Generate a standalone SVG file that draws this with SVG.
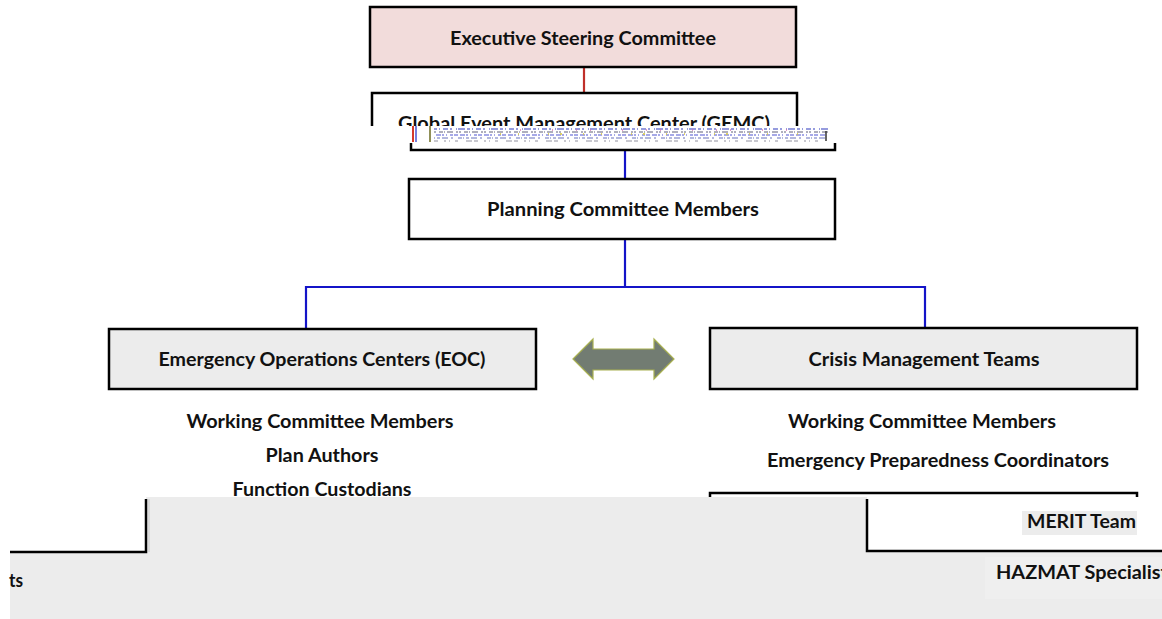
<svg xmlns="http://www.w3.org/2000/svg" width="1162" height="619" viewBox="0 0 1162 619">
<style>
.box{stroke:#000;stroke-width:2.5}
.t{font-family:Lato,"Open Sans","Liberation Sans",sans-serif;font-weight:bold;font-size:18px;fill:#111}
.blue{stroke:#1414c8;stroke-width:2.2;fill:none}
.blk{stroke:#000;stroke-width:2.5;fill:none}
.nz{fill:none;stroke-width:2.2}
</style>
<defs>
<clipPath id="gemcClip"><rect x="360" y="80" width="450" height="46"/></clipPath>
</defs>
<rect width="1162" height="619" fill="#fff"/>

<g id="connectors">
<line x1="584" y1="67" x2="584" y2="93" stroke="#c0302a" stroke-width="2.2"/>
<line class="blue" x1="625" y1="150" x2="625" y2="179"/>
<line class="blue" x1="625" y1="239" x2="625" y2="287"/>
<polyline class="blue" points="306,328 306,287 925,287 925,328"/>
</g>

<g id="esc">
<rect class="box" x="370" y="7" width="426" height="60" fill="#f2dcdb"/>
<text class="t" x="583" y="45" text-anchor="middle" textLength="266" lengthAdjust="spacingAndGlyphs">Executive Steering Committee</text>
</g>

<g id="gemc">
<polyline class="blk" points="372,126 372,93 797,93 797,126"/>
<text class="t" x="584" y="130" text-anchor="middle" textLength="372" lengthAdjust="spacingAndGlyphs" clip-path="url(#gemcClip)">Global Event Management Center (GEMC)</text>
<g id="glitch">
<line x1="413" y1="126" x2="413" y2="142" stroke="#d43a2a" stroke-width="2"/>
<line x1="416" y1="126" x2="416" y2="142" stroke="#4a55d0" stroke-width="1.5"/>
<line x1="430" y1="126" x2="430" y2="142" stroke="#6b6b20" stroke-width="1.5"/>
<line class="nz" x1="434" y1="129" x2="830" y2="129" stroke="#6a72d0" stroke-dasharray="3 2 1 3 5 2 2 4 1 1 7 2" opacity="0.7"/>
<line class="nz" x1="434" y1="132" x2="828" y2="132" stroke="#7a7a90" stroke-dasharray="2 3 4 1 1 2 6 3 2 1" opacity="0.6"/>
<line class="nz" x1="436" y1="135" x2="826" y2="135" stroke="#6b70d8" stroke-dasharray="5 1 2 2 1 3 3 1 4 2" opacity="0.6"/>
<line class="nz" x1="434" y1="138" x2="825" y2="138" stroke="#8088c8" stroke-dasharray="1 2 3 2 6 3 2 5 4 1" opacity="0.6"/>
<line class="nz" x1="434" y1="141" x2="820" y2="141" stroke="#9a9aa8" stroke-dasharray="4 6 2 3 1 5 3 8 6 2" opacity="0.55"/>
<line class="nz" x1="500" y1="134" x2="800" y2="134" stroke="#d8c840" stroke-dasharray="1 17 1 29 1 11 2 21" opacity="0.8"/>
<line class="nz" x1="520" y1="130" x2="790" y2="130" stroke="#d86ab0" stroke-dasharray="1 31 1 23 1 13" opacity="0.7"/>
<line x1="826" y1="131" x2="826" y2="141" stroke="#333" stroke-width="1.5"/>
</g>
<path class="blk" d="M411,143 V150 H835 V143"/>
</g>

<g id="planning">
<rect class="box" x="409" y="179" width="426" height="60" fill="#fff"/>
<text class="t" x="623" y="216" text-anchor="middle" textLength="272" lengthAdjust="spacingAndGlyphs">Planning Committee Members</text>
</g>

<g id="eoc">
<rect class="box" x="109" y="329" width="427" height="60" fill="#ececec"/>
<text class="t" x="322" y="366" text-anchor="middle" textLength="327" lengthAdjust="spacingAndGlyphs">Emergency Operations Centers (EOC)</text>
<text class="t" x="320" y="428" text-anchor="middle" textLength="267" lengthAdjust="spacingAndGlyphs">Working Committee Members</text>
<text class="t" x="322" y="462" text-anchor="middle" textLength="113" lengthAdjust="spacingAndGlyphs">Plan Authors</text>
<text class="t" x="322" y="496" text-anchor="middle" textLength="179" lengthAdjust="spacingAndGlyphs">Function Custodians</text>
</g>

<g id="arrow">
<polygon points="573,359 593,339 593,349 654,349 654,339 674,359 654,379 654,370 593,370 593,379" fill="#727c72" stroke="#a8b050" stroke-width="1.2"/>
</g>

<g id="cmt">
<rect class="box" x="710" y="328" width="427" height="61" fill="#ececec"/>
<text class="t" x="924" y="366" text-anchor="middle" textLength="231" lengthAdjust="spacingAndGlyphs">Crisis Management Teams</text>
<text class="t" x="922" y="428" text-anchor="middle" textLength="268" lengthAdjust="spacingAndGlyphs">Working Committee Members</text>
<text class="t" x="938" y="467" text-anchor="middle" textLength="342" lengthAdjust="spacingAndGlyphs">Emergency Preparedness Coordinators</text>
<path class="blk" d="M710,498 V493 H1137 V498"/>
</g>

<g id="lower">
<rect x="10" y="497" width="1152" height="122" fill="#ececec"/>
<rect x="10" y="497" width="136" height="55" fill="#fff"/>
<polyline class="blk" points="10,552 146,552 146,499"/>
<line x1="149" y1="499" x2="149" y2="552" stroke="#c8c8c8" stroke-width="1"/>
<rect x="867" y="497" width="295" height="54" fill="#fff"/>
<polyline class="blk" points="867,499 867,551 1162,551"/>
<rect x="1022" y="511" width="115" height="24" fill="#ececec"/>
<text class="t" x="1136" y="528" text-anchor="end" textLength="109" lengthAdjust="spacingAndGlyphs" font-size="17">MERIT Team</text>
<rect x="985" y="557" width="177" height="42" fill="#f6f6f6" opacity="0.35"/>
<text class="t" x="996" y="579" textLength="172" lengthAdjust="spacingAndGlyphs" font-size="17">HAZMAT Specialist</text>
<text class="t" x="9" y="587" textLength="14" lengthAdjust="spacingAndGlyphs" font-size="19">ts</text>
</g>
</svg>
